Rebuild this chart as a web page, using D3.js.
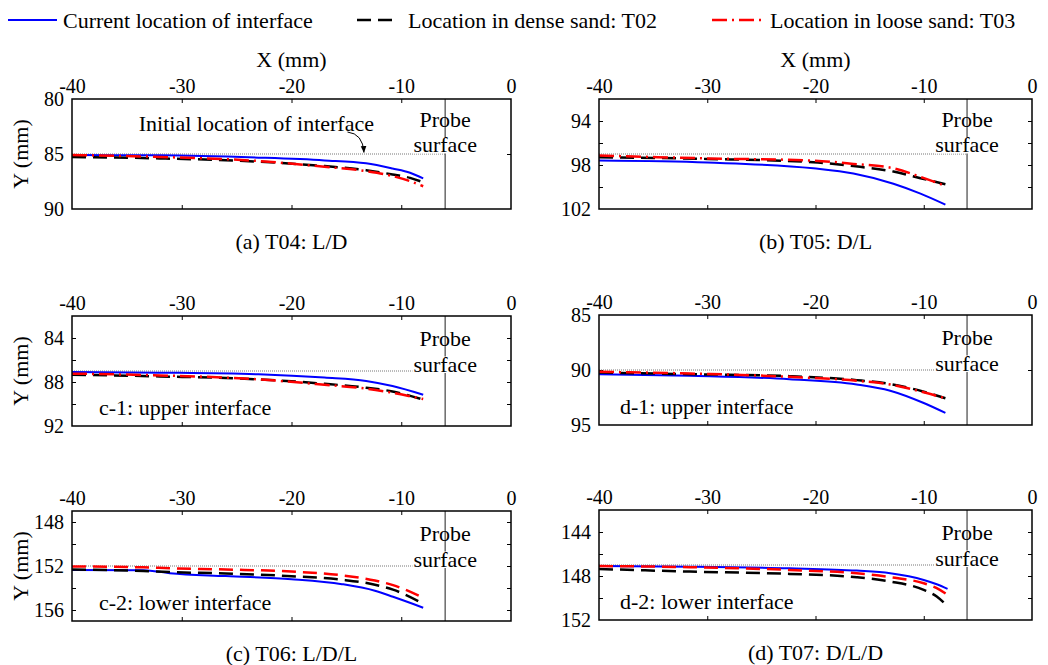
<!DOCTYPE html>
<html>
<head>
<meta charset="utf-8">
<script src="https://cdn.jsdelivr.net/npm/d3@7"></script>
<style>
  body { margin: 0; background: #fff; }
  text { font-family: "Liberation Serif", "Times New Roman", serif; fill: #000; }
</style>
</head>
<body>
<div id="chart"></div>
<script>
// --- data (X and Y in mm) ---
const LEGEND_LABELS = ['Current location of interface', 'Location in dense sand: T02', 'Location in loose sand: T03'];
const X_TICK_LABELS = [-40, -30, -20, -10, 0];
const PROBE_X = -6;

const X_A = [-40, -32, -23, -17, -13.2, -10.8, -9.2, -8];
const A_CURRENT = [85.10, 85.12, 85.33, 85.58, 85.85, 86.32, 86.70, 87.22];
const A_DENSE = [85.27, 85.40, 85.70, 86.10, 86.47, 86.86, 87.17, 87.57];
const A_LOOSE = [85.09, 85.27, 85.64, 86.16, 86.56, 87.00, 87.47, 87.93];

const X_B = [-40, -30, -20.2, -16.5, -12.8, -10.3, -8];
const B_CURRENT = [97.60, 97.78, 98.30, 98.77, 99.70, 100.60, 101.60];
const B_DENSE = [97.30, 97.45, 97.75, 98.10, 98.60, 99.20, 99.75];
const B_LOOSE = [97.14, 97.40, 97.60, 97.90, 98.30, 99.08, 99.90];

const X_C1 = [-40, -32, -23, -17, -13.2, -10.8, -8];
const C1_CURRENT = [87.09, 87.15, 87.30, 87.60, 87.90, 88.37, 89.16];
const C1_DENSE = [87.33, 87.49, 87.76, 88.16, 88.52, 88.86, 89.60];
const C1_LOOSE = [87.24, 87.40, 87.76, 88.25, 88.60, 88.98, 89.55];

const X_D1 = [-40, -31.6, -22.4, -16.2, -13.1, -10, -8];
const D1_CURRENT = [90.38, 90.53, 90.83, 91.31, 91.88, 93.00, 93.90];
const D1_DENSE = [90.23, 90.38, 90.56, 90.92, 91.28, 91.97, 92.57];
const D1_LOOSE = [90.17, 90.32, 90.62, 90.98, 91.31, 92.03, 92.57];

const X_C2 = [-40, -33.5, -31.1, -26, -20, -15.4, -12.4, -10.75, -8];
const C2_CURRENT = [152.36, 152.38, 152.65, 152.92, 153.20, 153.65, 154.25, 154.80, 155.79];
const C2_DENSE = [152.32, 152.45, 152.55, 152.68, 152.93, 153.25, 153.70, 154.15, 155.42];
const C2_LOOSE = [152.04, 152.12, 152.20, 152.32, 152.50, 152.85, 153.32, 153.74, 154.88];

const X_D2 = [-40, -31.6, -22.4, -16.2, -13.1, -10, -8.8, -7.8];
const D2_CURRENT = [147.09, 147.15, 147.30, 147.51, 147.75, 148.36, 148.75, 149.17];
const D2_DENSE = [147.36, 147.60, 147.81, 148.11, 148.50, 149.26, 149.86, 150.76];
const D2_LOOSE = [147.09, 147.20, 147.45, 147.75, 148.11, 148.66, 149.10, 149.71];

// --- styles ---
const COLORS = ['#0000ff', '#000000', '#ff0000'];
const WIDTHS = [2, 2.5, 2.5];
const DASH = '14,7';
const DASHDOT = '15,5,2,5';

// --- layout of the six panels ---
const panels = [
  { x: X_A, ys: [A_CURRENT, A_DENSE, A_LOOSE], yDomain: [80, 90], yLabels: [80, 85, 90], yTicks: [85],
    initial: 85, left: 72, top: 99, width: 439, row: 0, looseDash: DASHDOT,
    caption: '(a) T04: L/D', xTitle: true, yTitle: true, arrow: true },
  { x: X_B, ys: [B_CURRENT, B_DENSE, B_LOOSE], yDomain: [92, 102], yLabels: [94, 98, 102], yTicks: [94, 96, 98, 100],
    initial: 97, left: 599, top: 99, width: 433, row: 0, looseDash: DASHDOT,
    caption: '(b) T05: D/L', xTitle: true },
  { x: X_C1, ys: [C1_CURRENT, C1_DENSE, C1_LOOSE], yDomain: [82, 92], yLabels: [84, 88, 92], yTicks: [84, 86, 88, 90],
    initial: 87, left: 72, top: 316, width: 439, row: 1, looseDash: DASHDOT,
    label: 'c-1: upper interface', yTitle: true },
  { x: X_D1, ys: [D1_CURRENT, D1_DENSE, D1_LOOSE], yDomain: [85, 95], yLabels: [85, 90, 95], yTicks: [90],
    initial: 90, left: 599, top: 315, width: 433, row: 1, looseDash: DASHDOT,
    label: 'd-1: upper interface' },
  { x: X_C2, ys: [C2_CURRENT, C2_DENSE, C2_LOOSE], yDomain: [147, 157], yLabels: [148, 152, 156], yTicks: [148, 150, 152, 154, 156],
    initial: 152, left: 72, top: 511, width: 439, row: 2, looseDash: DASH,
    label: 'c-2: lower interface', caption: '(c) T06: L/D/L', yTitle: true },
  { x: X_D2, ys: [D2_CURRENT, D2_DENSE, D2_LOOSE], yDomain: [142, 152], yLabels: [144, 148, 152], yTicks: [144, 146, 148, 150],
    initial: 147, left: 599, top: 510, width: 433, row: 2, looseDash: DASH,
    label: 'd-2: lower interface', caption: '(d) T07: D/L/D' },
];
const PANEL_H = 110;
const FONT = '"Liberation Serif", "Times New Roman", serif';

const svg = d3.select('#chart').append('svg')
  .attr('width', 1048)
  .attr('height', 665);

svg.append('defs').append('marker')
  .attr('id', 'arrowhead')
  .attr('viewBox', '0 0 10 10')
  .attr('refX', 9).attr('refY', 5)
  .attr('markerWidth', 7).attr('markerHeight', 7)
  .attr('orient', 'auto')
  .append('path').attr('d', 'M0,1L10,5L0,9Z').attr('fill', '#000');

// legend
const legendItems = [
  { x0: 8, x1: 57, tx: 63, dash: null },
  { x0: 357, x1: 392, tx: 408, dash: DASH },
  { x0: 712, x1: 765, tx: 770, dash: DASHDOT },
];
legendItems.forEach((d, i) => {
  svg.append('line')
    .attr('x1', d.x0).attr('x2', d.x1).attr('y1', 20).attr('y2', 20)
    .attr('stroke', COLORS[i]).attr('stroke-width', WIDTHS[i])
    .attr('stroke-dasharray', d.dash);
  svg.append('text')
    .attr('x', d.tx).attr('y', 27.5)
    .attr('font-size', 22)
    .text(LEGEND_LABELS[i]);
});

const styleAxis = g => {
  g.select('.domain').remove();
  g.attr('font-family', FONT).attr('font-size', 20);
};
// plain hyphen minus, as in the original figure
const plain = d => String(d);

panels.forEach(p => {
  const x = d3.scaleLinear().domain([-40, 0]).range([p.left, p.left + p.width]);
  const y = d3.scaleLinear().domain(p.yDomain).range([p.top, p.top + PANEL_H]);
  const g = svg.append('g');
  const bottom = p.top + PANEL_H;
  const right = p.left + p.width;

  // tick labels
  g.append('g').attr('transform', `translate(0,${p.top})`)
    .call(d3.axisTop(x).tickValues(X_TICK_LABELS).tickFormat(plain).tickSize(0).tickPadding(6))
    .call(styleAxis);
  g.append('g').attr('transform', `translate(${p.left},0)`)
    .call(d3.axisLeft(y).tickValues(p.yLabels).tickFormat(plain).tickSize(0).tickPadding(8))
    .call(styleAxis);

  // inner tick marks on all four sides
  const xInner = [-30, -20, -10];
  g.append('g').attr('transform', `translate(0,${p.top})`)
    .call(d3.axisBottom(x).tickValues(xInner).tickSize(4).tickFormat(''))
    .call(styleAxis);
  g.append('g').attr('transform', `translate(0,${bottom})`)
    .call(d3.axisTop(x).tickValues(xInner).tickSize(4).tickFormat(''))
    .call(styleAxis);
  g.append('g').attr('transform', `translate(${p.left},0)`)
    .call(d3.axisRight(y).tickValues(p.yTicks).tickSize(4).tickFormat(''))
    .call(styleAxis);
  g.append('g').attr('transform', `translate(${right},0)`)
    .call(d3.axisLeft(y).tickValues(p.yTicks).tickSize(4).tickFormat(''))
    .call(styleAxis);

  // initial interface (dotted)
  g.append('line')
    .attr('x1', x(-40)).attr('x2', x(PROBE_X))
    .attr('y1', y(p.initial)).attr('y2', y(p.initial))
    .attr('stroke', '#777').attr('stroke-width', 1).attr('stroke-dasharray', '1,1');

  // probe surface
  g.append('line')
    .attr('x1', x(PROBE_X)).attr('x2', x(PROBE_X))
    .attr('y1', p.top).attr('y2', bottom)
    .attr('stroke', '#444').attr('stroke-width', 1.2);

  const surfBase = p.top + (p.row === 0 ? 53 : 55.5);
  g.append('text')
    .attr('x', x(PROBE_X)).attr('y', surfBase - 25.5)
    .attr('text-anchor', 'middle').attr('font-size', 22)
    .text('Probe');
  const surf = g.append('text')
    .attr('x', x(PROBE_X)).attr('y', surfBase)
    .attr('text-anchor', 'middle').attr('font-size', 22)
    .text('surface');
  const bb = surf.node().getBBox();
  g.insert('rect', () => surf.node())
    .attr('x', bb.x - 1).attr('y', surfBase - 15)
    .attr('width', bb.width + 2).attr('height', 16.5)
    .attr('fill', '#fff');

  // data lines
  const dashes = [null, DASH, p.looseDash];
  p.ys.forEach((vals, i) => {
    const line = d3.line()
      .x((d, j) => x(p.x[j]))
      .y(d => y(d))
      .curve(d3.curveMonotoneX);
    g.append('path')
      .attr('d', line(vals))
      .attr('fill', 'none')
      .attr('stroke', COLORS[i])
      .attr('stroke-width', WIDTHS[i])
      .attr('stroke-dasharray', dashes[i]);
  });

  // frame
  g.append('rect')
    .attr('x', p.left).attr('y', p.top)
    .attr('width', p.width).attr('height', PANEL_H)
    .attr('fill', 'none').attr('stroke', '#000').attr('stroke-width', 1.5);

  if (p.xTitle) {
    g.append('text')
      .attr('x', (p.left + right) / 2).attr('y', 67)
      .attr('text-anchor', 'middle').attr('font-size', 22)
      .text('X (mm)');
  }
  if (p.yTitle) {
    g.append('text')
      .attr('transform', `translate(20,${p.top + PANEL_H / 2}) rotate(-90)`)
      .attr('text-anchor', 'middle').attr('dominant-baseline', 'central')
      .attr('font-size', 22)
      .text('Y (mm)');
  }
  if (p.caption) {
    g.append('text')
      .attr('x', (p.left + right) / 2).attr('y', bottom + 40)
      .attr('text-anchor', 'middle').attr('font-size', 22)
      .text(p.caption);
  }
  if (p.label) {
    g.append('text')
      .attr('x', p.left + (p.left < 300 ? 27 : 21))
      .attr('y', bottom - 11)
      .attr('font-size', 22)
      .text(p.label);
  }
  if (p.arrow) {
    g.append('text')
      .attr('x', x(-23.2)).attr('y', p.top + 32)
      .attr('text-anchor', 'middle').attr('font-size', 22)
      .text('Initial location of interface');
    const path = d3.path();
    path.moveTo(x(-14.9), y(83.0));
    path.quadraticCurveTo(x(-13.5), y(83.15), x(-13.4), y(84.85));
    g.append('path')
      .attr('d', path.toString())
      .attr('fill', 'none').attr('stroke', '#000').attr('stroke-width', 1)
      .attr('marker-end', 'url(#arrowhead)');
  }
});
</script>
</body>
</html>
